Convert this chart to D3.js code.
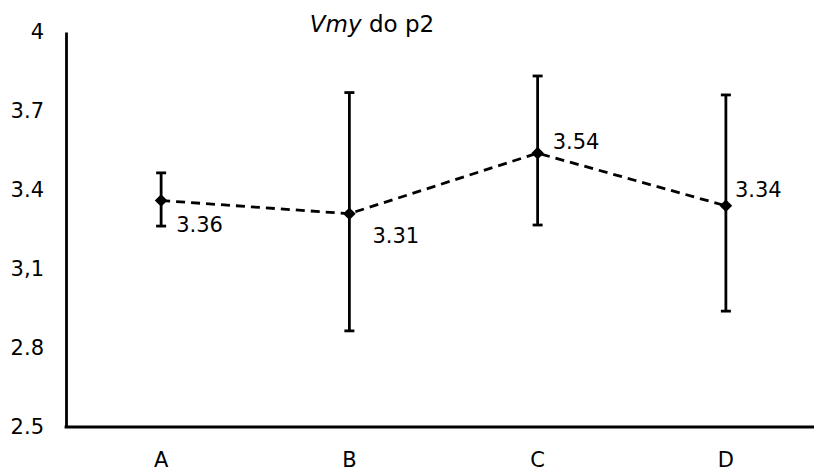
<!DOCTYPE html>
<html>
<head>
<meta charset="utf-8">
<script src="https://cdn.jsdelivr.net/npm/d3@7"></script>
<style>
	body { margin: 0; background: #fff; }
	svg { display: block; font-family: "Century Gothic", "URW Gothic", "DejaVu Sans", sans-serif; }
</style>
</head>
<body>
<svg id="chart" width="814" height="472"></svg>
<script>
// data
const groups = ["A", "B", "C", "D"];
const means = [3.36, 3.31, 3.54, 3.34];
const upper = [3.465, 3.77, 3.833, 3.761];
const lower = [3.263, 2.865, 3.267, 2.94];
const yTicks = [2.5, 2.8, 3.1, 3.4, 3.7, 4];
const yTickLabels = ["2.5", "2.8", "3,1", "3.4", "3.7", "4"];

// label nudges (layout only)
const labelDx = [15, 23, 15, 9];
const labelDy = [31, 29, -4, -9];

const width = 814,
	height = 472;
const margin = { top: 32, left: 66, bottom: 45 };

const svg = d3.select("#chart").attr("viewBox", [0, 0, width, height]);

const x_scale = d3.scaleBand().domain(groups).range([67, 820]);
const y_scale = d3.scaleLinear().domain([2.5, 4]).range([427, margin.top]);

const cx = (i) => x_scale(groups[i]) + x_scale.bandwidth() / 2;

// title
const title = svg
	.append("text")
	.attr("x", 372)
	.attr("y", 32)
	.attr("text-anchor", "middle")
	.style("font-size", "23px");
title.append("tspan").style("font-style", "italic").text("Vmy");
title.append("tspan").text(" do p2");

// y axis
const y_axis = d3
	.axisLeft(y_scale)
	.tickValues(yTicks)
	.tickSize(0)
	.tickPadding(22)
	.tickFormat((d, i) => yTickLabels[i]);

svg
	.append("g")
	.attr("transform", `translate(${margin.left},0)`)
	.call(y_axis)
	.attr("font-family", null)
	.attr("font-size", 21)
	.call((g) => g.select(".domain").attr("stroke", "#000").attr("stroke-width", 2.8))
	.call((g) => g.selectAll("text").attr("fill", "#000"));

// x axis
const x_axis = d3.axisBottom(x_scale).tickSize(0).tickPadding(25);
svg
	.append("g")
	.attr("transform", `translate(0,${y_scale(2.5)})`)
	.call(x_axis)
	.attr("font-family", null)
	.attr("font-size", 21)
	.call((g) =>
		g.select(".domain").attr("d", `M${margin.left - 1.4},0H${width}`).attr("stroke", "#000").attr("stroke-width", 2.8)
	)
	.call((g) => g.selectAll("text").attr("fill", "#000"));

const idx = d3.range(groups.length);

// dashed line through means
const line = d3
	.line()
	.x((i) => cx(i))
	.y((i) => y_scale(means[i]));

svg
	.append("path")
	.datum(idx)
	.attr("d", line)
	.attr("fill", "none")
	.attr("stroke", "#000")
	.attr("stroke-width", 2.8)
	.attr("stroke-dasharray", "9,6");

// error bars
const bars = svg.append("g").attr("stroke", "#000").attr("stroke-width", 2.8);
bars
	.selectAll("line.stem")
	.data(idx)
	.join("line")
	.attr("class", "stem")
	.attr("x1", cx)
	.attr("x2", cx)
	.attr("y1", (i) => y_scale(upper[i]))
	.attr("y2", (i) => y_scale(lower[i]));

bars
	.selectAll("line.capTop")
	.data(idx)
	.join("line")
	.attr("class", "capTop")
	.attr("x1", (i) => cx(i) - 5)
	.attr("x2", (i) => cx(i) + 5)
	.attr("y1", (i) => y_scale(upper[i]))
	.attr("y2", (i) => y_scale(upper[i]));

bars
	.selectAll("line.capBottom")
	.data(idx)
	.join("line")
	.attr("class", "capBottom")
	.attr("x1", (i) => cx(i) - 5)
	.attr("x2", (i) => cx(i) + 5)
	.attr("y1", (i) => y_scale(lower[i]))
	.attr("y2", (i) => y_scale(lower[i]));

// diamond markers
svg
	.selectAll("path.marker")
	.data(idx)
	.join("path")
	.attr("class", "marker")
	.attr("d", d3.symbol().type(d3.symbolSquare).size(80))
	.attr("transform", (i) => `translate(${cx(i)},${y_scale(means[i])}) rotate(45)`)
	.attr("fill", "#000");

// value labels
svg
	.selectAll("text.value")
	.data(idx)
	.join("text")
	.attr("class", "value")
	.attr("x", (i) => cx(i) + labelDx[i])
	.attr("y", (i) => y_scale(means[i]) + labelDy[i])
	.style("font-size", "21px")
	.text((i) => means[i].toFixed(2));
</script>
</body>
</html>
